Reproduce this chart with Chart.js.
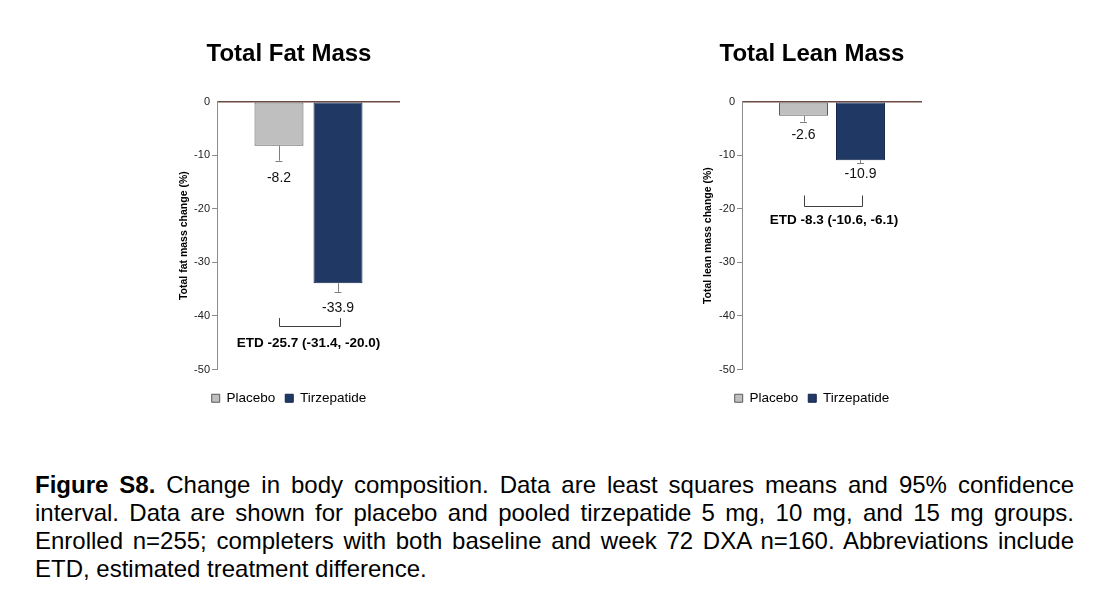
<!DOCTYPE html>
<html>
<head>
<meta charset="utf-8">
<script src="https://cdn.jsdelivr.net/npm/chart.js@4.4.1/dist/chart.umd.min.js"></script>
<style>
  html, body { margin: 0; padding: 0; background: #fff; }
  body { width: 1117px; height: 603px; overflow: hidden; position: relative; font-family: "Liberation Sans", Arial, sans-serif; }
  .wrap { position: absolute; }
  #w1 { left: 168px; top: 31px; width: 242px; height: 384px; }
  #w2 { left: 692px; top: 31px; width: 240px; height: 384px; }
  .caption { position: absolute; left: 35px; top: 471px; width: 1039px; font-size: 24px; line-height: 28px; color: #000; }
  .caption .l { text-align: justify; text-align-last: justify; }
  .caption .last { text-align: left; }
</style>
</head>
<body>
<div class="wrap" id="w1"><canvas id="c1"></canvas></div>
<div class="wrap" id="w2"><canvas id="c2"></canvas></div>
<div class="caption">
  <div class="l"><b>Figure S8.</b> Change in body composition. Data are least squares means and 95% confidence</div>
  <div class="l">interval. Data are shown for placebo and pooled tirzepatide 5 mg, 10 mg, and 15 mg groups.</div>
  <div class="l">Enrolled n=255; completers with both baseline and week 72 DXA n=160. Abbreviations include</div>
  <div class="last">ETD, estimated treatment difference.</div>
</div>
<script>
// ---- data ----
const chartTitles = ['Total Fat Mass', 'Total Lean Mass'];
const seriesNames = ['Placebo', 'Tirzepatide'];
const yTitles = ['Total fat mass change (%)', 'Total lean mass change (%)'];
const fatMeans = [-8.2, -33.9];
const fatLowerCI = [-11.0, -35.5];
const leanMeans = [-2.6, -10.9];
const leanLowerCI = [-3.7, -11.5];
const etdLabels = ['ETD -25.7 (-31.4, -20.0)', 'ETD -8.3 (-10.6, -6.1)'];
const fatBracket = [-40.4, -41.8];
const leanBracket = [-17.5, -19.4];
const yMin = -50, yMax = 0, yStep = 10;

// ---- styles ----
const FONT = '"Liberation Sans", Arial, sans-serif';
Chart.defaults.font.family = FONT;
const barFill = ['#bfbfbf', '#1f3864'];
const barEdge = ['#595959', '#15264a'];
const axisColor = '#8c8c8c';
const zeroColor = '#6b4a44';

const annotPlugin = {
  id: 'annot',
  afterDatasetsDraw(chart, args, o) {
    const ctx = chart.ctx, y = chart.scales.y;
    const xs = chart.data.datasets.map((d, i) => chart.getDatasetMeta(i).data[0].x);
    ctx.save();
    o.means.forEach((m, i) => {
      const x = xs[i];
      const y0 = y.getPixelForValue(m), y1 = y.getPixelForValue(o.lower[i]);
      ctx.strokeStyle = '#7f7f7f';
      ctx.lineWidth = 1;
      ctx.beginPath();
      ctx.moveTo(Math.round(x) + 0.5, y0);
      ctx.lineTo(Math.round(x) + 0.5, y1);
      ctx.moveTo(x - 3.5, Math.round(y1) + 0.5);
      ctx.lineTo(x + 3.5, Math.round(y1) + 0.5);
      ctx.stroke();
      ctx.fillStyle = '#111';
      ctx.font = '14px ' + FONT;
      ctx.textAlign = 'center';
      ctx.textBaseline = 'middle';
      ctx.fillText(m.toFixed(1), x, y1 + o.labelOffset[i]);
    });
    const yt = y.getPixelForValue(o.bracket[0]), yb = Math.round(y.getPixelForValue(o.bracket[1])) + 0.5;
    const xl = Math.round(xs[0]) + 0.5, xr = Math.round(xs[1]) + 2.5;
    ctx.strokeStyle = '#404040';
    ctx.lineWidth = 1;
    ctx.beginPath();
    ctx.moveTo(xl, yt); ctx.lineTo(xl, yb); ctx.lineTo(xr, yb); ctx.lineTo(xr, yt);
    ctx.stroke();
    ctx.fillStyle = '#000';
    ctx.font = 'bold 13.5px ' + FONT;
    ctx.textAlign = 'center';
    ctx.textBaseline = 'middle';
    ctx.fillText(o.etd, (xs[0] + xs[1]) / 2 + o.etdShift, yb + o.etdOffset);
    ctx.restore();
  }
};

function makeChart(id, cfg) {
  return new Chart(document.getElementById(id), {
    type: 'bar',
    data: {
      labels: [''],
      datasets: seriesNames.map((n, i) => ({
        label: n,
        data: [cfg.means[i]],
        backgroundColor: barFill[i],
        borderColor: barEdge[i],
        borderWidth: 1,
        borderSkipped: false,
        categoryPercentage: cfg.catPct,
        barPercentage: cfg.barPct
      }))
    },
    options: {
      responsive: true,
      maintainAspectRatio: false,
      animation: false,
      layout: { padding: { left: 10, right: 10, top: 0, bottom: 0 } },
      plugins: {
        tooltip: { enabled: false },
        title: {
          display: true, text: cfg.title, color: '#000',
          font: { size: 24, weight: 'bold', family: FONT },
          padding: { top: 9, bottom: 33 }
        },
        legend: {
          position: 'bottom',
          labels: { boxWidth: 8, boxHeight: 8, padding: 10, color: '#000', font: { size: 13.5, family: FONT } }
        },
        annot: {
          means: cfg.means, lower: cfg.lower, bracket: cfg.bracket, etd: cfg.etd,
          labelOffset: cfg.labelOffset, etdOffset: cfg.etdOffset, etdShift: cfg.etdShift
        }
      },
      scales: {
        x: {
          display: true,
          grid: { display: false },
          border: { display: false },
          ticks: { display: false },
          afterFit: s => { s.height = 12; }
        },
        y: {
          min: yMin, max: yMax,
          ticks: { stepSize: yStep, color: '#222', padding: 2, font: { size: 11, family: FONT } },
          grid: {
            color: c => (c.tick && c.tick.value === 0) ? zeroColor : 'rgba(0,0,0,0)',
            lineWidth: c => (c.tick && c.tick.value === 0) ? 1.5 : 1,
            tickColor: c => (c.tick && c.tick.value === 0) ? 'rgba(0,0,0,0)' : axisColor,
            tickLength: 5,
            drawOnChartArea: true
          },
          border: { color: axisColor, width: 1 },
          title: {
            display: true, text: cfg.yTitle, color: '#000',
            font: { size: 10.5, weight: 'bold', family: FONT },
            padding: { top: 0, bottom: 0 }
          },
          afterFit: s => { s.width = cfg.axisWidth; }
        }
      }
    },
    plugins: [annotPlugin]
  });
}

makeChart('c1', {
  title: chartTitles[0], yTitle: yTitles[0], means: fatMeans, lower: fatLowerCI,
  bracket: fatBracket, etd: etdLabels[0], labelOffset: [17.5, 16], etdOffset: 16.5, etdShift: 0,
  axisWidth: 39, catPct: 0.645, barPct: 0.83
});
makeChart('c2', {
  title: chartTitles[1], yTitle: yTitles[1], means: leanMeans, lower: leanLowerCI,
  bracket: leanBracket, etd: etdLabels[1], labelOffset: [13.5, 11], etdOffset: 13.5, etdShift: 2,
  axisWidth: 40, catPct: 0.633, barPct: 0.86
});
</script>
</body>
</html>
